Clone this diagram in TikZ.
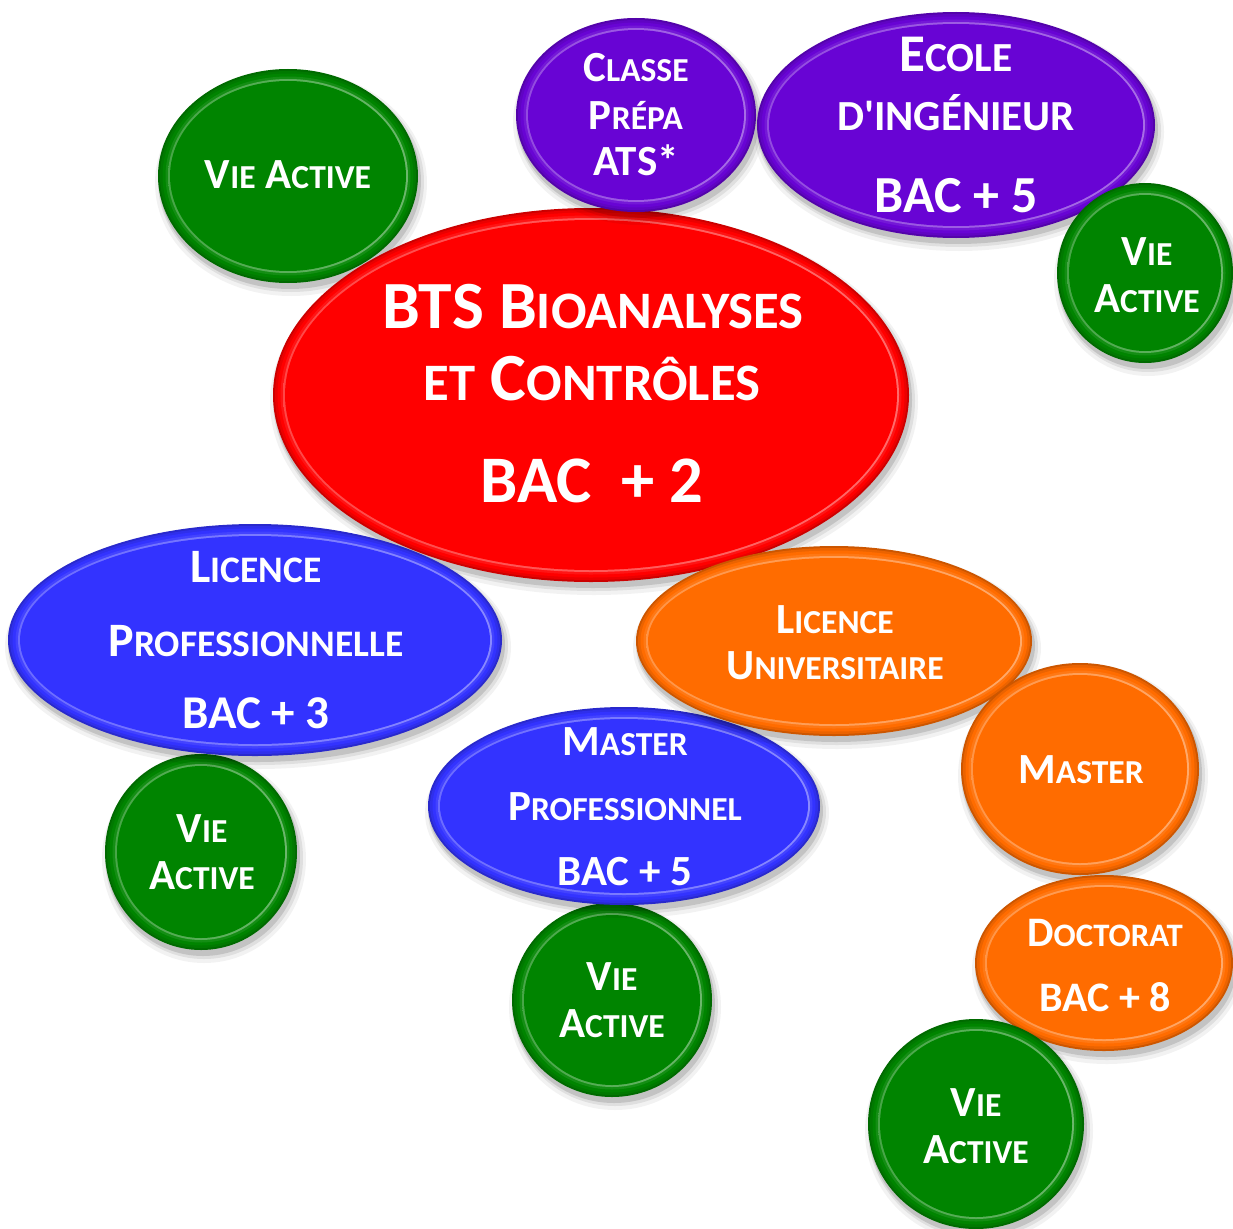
\documentclass[tikz,border=0pt]{standalone}
\usepackage{fontspec}
\setmainfont{Carlito}
\usepackage{graphicx}
\usetikzlibrary{shapes.geometric}
\definecolor{cGreen}{RGB}{0,132,0}
\definecolor{cPurple}{RGB}{104,4,212}
\definecolor{cRed}{RGB}{255,0,0}
\definecolor{cBlue}{RGB}{51,51,255}
\definecolor{cOrange}{RGB}{255,108,0}
\newcommand\sm[1]{\scalebox{0.78}{#1}}
\newcommand\fs[1]{\fontsize{#1}{#1}\selectfont}
\tikzset{
  bub/.style={ellipse, inner sep=0pt, draw=none},
  txt/.style={text=white, inner sep=0pt, anchor=base, font=\bfseries\fs{43}},
}
% name, x, y, rx, ry, colour
\newcommand\bubble[6]{%
  \fill[black,opacity=0.05] (#2+3,#3+7) ellipse ({#4pt+6pt} and {#5pt+6pt});
  \fill[black,opacity=0.08] (#2+3,#3+6) ellipse ({#4pt+3pt} and {#5pt+3pt});
  \fill[black,opacity=0.12] (#2+2,#3+5) ellipse ({#4pt+1pt} and {#5pt+1pt});
  \node[bub, minimum width={2*#4pt}, minimum height={2*#5pt}, fill=#6!80!black] (#1) at (#2,#3) {};
  \fill[#6!92!black] (#1.center) ellipse ({#4pt-2pt} and {#5pt-2pt});
  \fill[#6] (#1.center) ellipse ({#4pt-4.5pt} and {#5pt-4.5pt});
  \fill[#6!92!white] (#1.center) ellipse ({#4pt-7.5pt} and {#5pt-7.5pt});
  \shade[left color=#6!72!white, middle color=#6!90!white, right color=#6!58!white]
    (#1.center) ellipse ({#4pt-10pt} and {#5pt-10pt});
  \fill[#6] (#1.center) ellipse ({#4pt-12pt} and {#5pt-12pt});
}
\begin{document}
\begin{tikzpicture}[x=1pt,y=-1pt]
\useasboundingbox[fill=white] (0,0) rectangle (1233,1228);

\bubble{va1}{288}{176}{130}{107}{cGreen}
\bubble{bts}{591}{395}{318}{187}{cRed}
\bubble{prepa}{636}{115}{120}{97}{cPurple}
\bubble{ecole}{956}{125}{199}{113}{cPurple}
\bubble{va2}{1145}{273}{88}{90}{cGreen}
\bubble{va3}{201}{852}{96}{98}{cGreen}
\bubble{lpro}{255}{640}{247}{116}{cBlue}
\bubble{va4}{612}{1000}{100}{97}{cGreen}
\bubble{mpro}{624}{806}{196}{99}{cBlue}
\bubble{luni}{834}{641}{198}{95}{cOrange}
\bubble{master}{1080}{769}{119}{106}{cOrange}
\bubble{doct}{1104}{963}{129}{88}{cOrange}
\bubble{va5}{976}{1124}{108}{105}{cGreen}

% texts
\node[txt] (va1t) at (288,188) {V\sm{IE} A\sm{CTIVE}};

\node[txt] (prepa1) at (636,82) {C\sm{LASSE}};
\node[txt] (prepa2) at (636,129) {P\sm{RÉPA}};
\node[txt] (prepa3) at (636,175) {ATS*};

\node[txt, font=\bfseries\fs{53}] (ecole1) at (956,72) {E\sm{COLE}};
\node[txt, font=\bfseries\fs{55}] (ecole2) at (956,131) {\sm{D\textquotesingle INGÉNIEUR}};
\node[txt, font=\bfseries\fs{52}] (ecole3) at (956,212) {BAC + 5};

\node[txt] (va2a) at (1147,265) {V\sm{IE}};
\node[txt] (va2b) at (1147,312) {A\sm{CTIVE}};

\node[txt, font=\bfseries\fs{67.5}] (bts1) at (593,328) {BTS B\sm{IOANALYSES}};
\node[txt, font=\bfseries\fs{67.5}] (bts2) at (592,400) {\sm{ET} C\sm{ONTRÔLES}};
\node[txt, font=\bfseries\fs{66.5}] (bts3) at (592,502) {BAC~~+ 2};

\node[txt, font=\bfseries\fs{48}] (lpro1) at (256,582) {L\sm{ICENCE}};
\node[txt, font=\bfseries\fs{48}] (lpro2) at (256,656) {P\sm{ROFESSIONNELLE}};
\node[txt, font=\bfseries\fs{47}] (lpro3) at (256,728) {BAC + 3};

\node[txt] (luni1) at (835,633) {L\sm{ICENCE}};
\node[txt] (luni2) at (835,679) {U\sm{NIVERSITAIRE}};

\node[txt] (mpro1) at (625,755) {M\sm{ASTER}};
\node[txt] (mpro2) at (625,820) {P\sm{ROFESSIONNEL}};
\node[txt] (mpro3) at (625,885) {BAC + 5};

\node[txt] (va3a) at (202,842) {V\sm{IE}};
\node[txt] (va3b) at (202,889) {A\sm{CTIVE}};

\node[txt] (mastert) at (1081,783) {M\sm{ASTER}};

\node[txt] (va4a) at (612,990) {V\sm{IE}};
\node[txt] (va4b) at (612,1037) {A\sm{CTIVE}};

\node[txt, font=\bfseries\fs{42}] (doct1) at (1105,946) {D\sm{OCTORAT}};
\node[txt, font=\bfseries\fs{42}] (doct2) at (1105,1011) {BAC + 8};

\node[txt] (va5a) at (976,1116) {V\sm{IE}};
\node[txt] (va5b) at (976,1163) {A\sm{CTIVE}};
\end{tikzpicture}
\end{document}
